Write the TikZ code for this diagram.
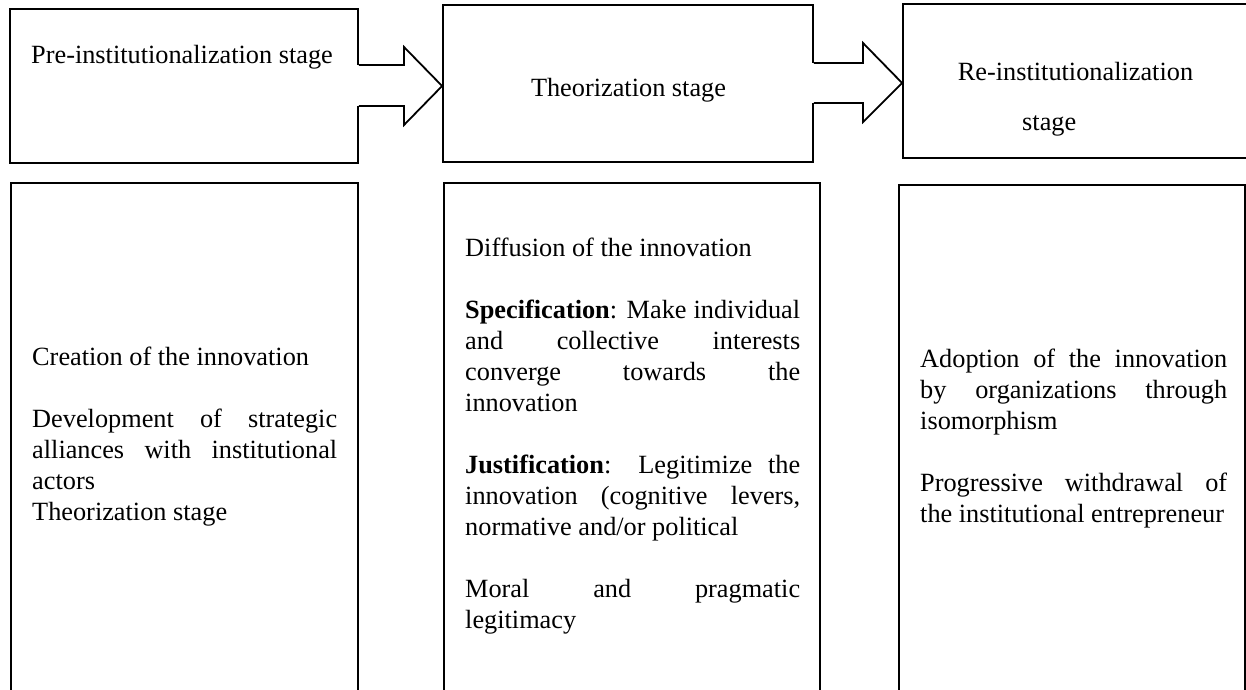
\documentclass[tikz,border=0pt]{standalone}
\usepackage{fontspec}
\setmainfont{Liberation Serif}
\tikzset{
  boxline/.style={draw=black, line width=1.8pt, inner sep=0pt, rectangle},
  arrowline/.style={draw=black, line width=1.8pt, line join=miter},
  titletext/.style={inner sep=0pt, font=\fontsize{26.3}{31}\selectfont},
  bodytext/.style={inner sep=0pt, align=justify, anchor=base west, font=\fontsize{26.3}{31}\selectfont},
}
\begin{document}
\begin{tikzpicture}[x=1pt,y=-1pt]
\useasboundingbox[fill=white] (0,0) rectangle (1246,689);
% top boxes
\node[boxline, minimum width=348, minimum height=154] (b1) at (184,86) {};
\node[boxline, minimum width=370, minimum height=157] (b2) at (628,83.5) {};
\node[boxline, minimum width=346, minimum height=154] (b3) at (1076,81) {};
% top texts
\node[titletext, anchor=base west] (t1) at (31,63) {Pre-institutionalization stage};
\node[titletext, anchor=base] (t2) at (628.5,96) {Theorization stage};
\node[titletext, anchor=base] (t3a) at (1075.5,80) {Re-institutionalization};
\node[titletext, anchor=base west] (t3b) at (1022,130) {stage};
% block arrows
\fill[white] ([xshift=-2pt]b1.east |- 0,65) rectangle (404,106);
\draw[arrowline] (b1.east |- 0,65) -- (404,65) -- (404,47) -- (b2.west |- 0,86) -- (404,125) -- (404,106) -- (b1.east |- 0,106);
\fill[white] ([xshift=-2pt]b2.east |- 0,63) rectangle (863,103);
\draw[arrowline] (b2.east |- 0,63) -- (863,63) -- (863,43) -- (b3.west |- 0,83) -- (863,122) -- (863,103) -- (b2.east |- 0,103);
% bottom boxes (open at the bottom)
\node[boxline, minimum width=347, minimum height=520] (c1) at (184.5,443) {};
\node[boxline, minimum width=376, minimum height=520] (c2) at (632,443) {};
\node[boxline, minimum width=346, minimum height=518] (c3) at (1072,444) {};
% bottom texts
\node[bodytext, text width=305pt] (d1) at (32,365) {\setlength{\parskip}{31pt}%
Creation of the innovation\par
Development of strategic\linebreak alliances with institutional\linebreak actors\newline
Theorization stage\par};
\node[bodytext, text width=335pt] (d2) at (465,256) {\setlength{\parskip}{31pt}%
Diffusion of the innovation\par
\textbf{Specification}: Make individual\linebreak and collective interests\linebreak converge towards the\linebreak innovation\par
\textbf{Justification}: Legitimize the\linebreak innovation (cognitive levers,\linebreak normative and/or political\par
Moral and pragmatic\linebreak legitimacy\par};
\node[bodytext, text width=307pt] (d3) at (920,367) {\setlength{\parskip}{31pt}%
Adoption of the innovation\linebreak by organizations through\linebreak isomorphism\par
Progressive withdrawal of\linebreak the institutional entrepreneur\par};
\end{tikzpicture}
\end{document}
